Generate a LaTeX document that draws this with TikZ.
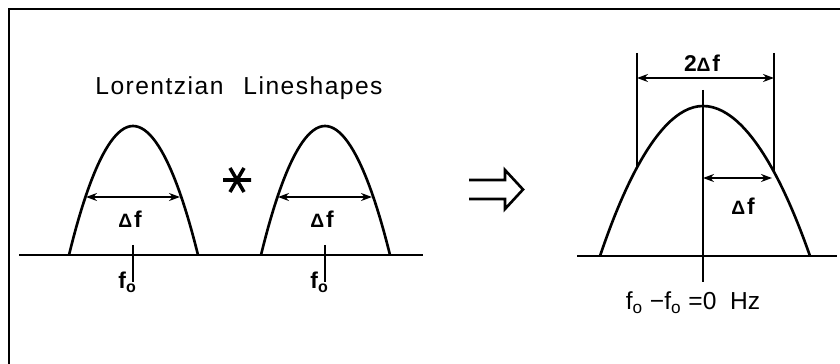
\documentclass[tikz,border=0pt]{standalone}
\usepackage{fontspec}
\setmainfont{Liberation Sans}
\usetikzlibrary{arrows.meta,positioning,calc}
\tikzset{
  frm/.style={black, line width=0.9pt},
  crv/.style={black, line width=1.5pt},
  axl/.style={black, line width=1.6pt},
  tck/.style={black, line width=1.5pt},
  dimarr/.style={{Stealth[length=2.2mm,width=1.6mm]}-{Stealth[length=2.2mm,width=1.6mm]}, line width=1.4pt},
  lbl/.style={font=\bfseries\fontsize{13}{15}\selectfont, inner sep=0pt},
  rlbl/.style={font=\fontsize{14}{16}\selectfont, inner sep=0pt},
  ttl/.style={font=\addfontfeature{LetterSpace=6}\fontsize{14}{16}\selectfont, inner sep=0pt},
}
\newcommand{\dsym}{{\fontsize{11}{11}\selectfont Δ}}
\newcommand{\lshape}[2]{%
  \draw[crv] (#1-64,255) parabola bend (#1,126) (#1+65,255);
  \coordinate (#2l) at (#1-47,197);
  \coordinate (#2r) at (#1+47,197);
  \draw[dimarr] (#2l) -- (#2r);
  \node[lbl] (#2df) at (#1-3,219) {\dsym\kern1pt f};
  \draw[tck] (#1,245) coordinate (#2ta) -- (#1,282) coordinate (#2tb);
  \node[lbl, anchor=base east] (#2fo) at (#1+4,289) {f\textsubscript{o}};}

\begin{document}
\begin{tikzpicture}[x=0.02cm, y=-0.02cm]
    \useasboundingbox (0,0) rectangle (840,364);
    \draw[frm] (840,9) -- (9,9) -- (9,364);
    % left: two lineshapes
    \node[ttl, anchor=base] (title) at (239,95) {Lorentzian\hspace{0.4cm}Lineshapes};
    \draw[axl] (19,255) -- (423,255);
    \lshape{133}{pa}
    \lshape{325}{pb}
    % convolution star
    \coordinate (star) at (237,180);
    \draw[line width=2pt] ($(star)+(-14,0)$) -- ($(star)+(14,0)$)
         ($(star)+(-7,-12)$) -- ($(star)+(7,12)$)
         ($(star)+(7,-12)$) -- ($(star)+(-7,12)$);
    % implies
    \draw[crv, line join=miter] (469,180) -- (505,180) -- (505,170) -- (523,189.5)
         -- (505,209) -- (505,199) -- (469,199);
    % right: result
    \draw[axl] (577,256) -- (837,256);
    \draw[crv] (600,256) parabola bend (703,106) (810,256);
    \draw[tck] (703,90) coordinate (ctop) -- (703,282) coordinate (cbot);
    \coordinate (wl) at (637,53);
    \coordinate (wr) at (774,53);
    \draw[tck] (wl) -- (637,167.6);
    \draw[tck] (wr) -- (774,172);
    \coordinate (wal) at (637,78);
    \coordinate (war) at (774,78);
    \draw[dimarr] (wal) -- (war);
    \node[lbl] (twodf) at (702,63) {2\dsym\kern1pt f};
    \coordinate (hl) at (703,178);
    \coordinate (hr) at (772,178);
    \draw[dimarr] (hl) -- (hr);
    \node[lbl] (hdf) at (743,206) {\dsym\kern1pt f};
    \node[rlbl, anchor=base] (res) at (693,310) {f\textsubscript{o} −f\textsubscript{o} =0\ \ Hz};
\end{tikzpicture}
\end{document}
